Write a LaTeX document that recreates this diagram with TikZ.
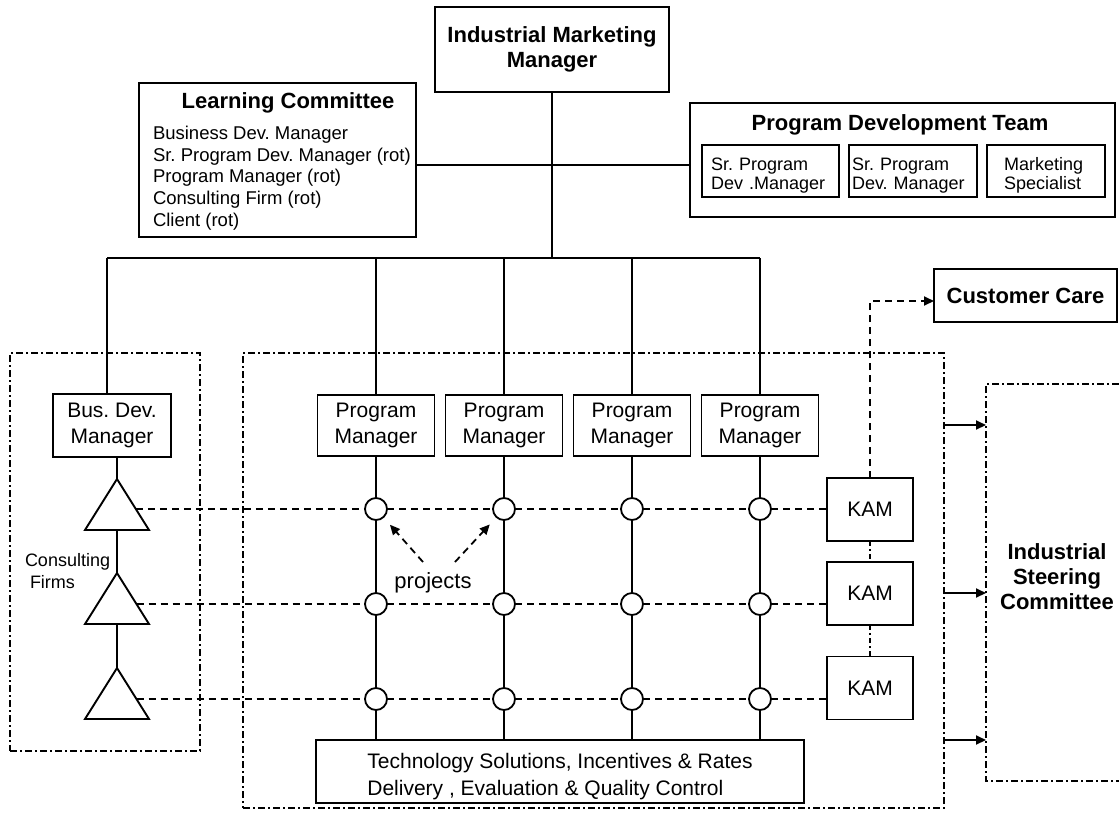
\documentclass[tikz,border=0pt]{standalone}
\usepackage{fontspec}
\setmainfont{Liberation Sans}
\usetikzlibrary{arrows.meta}
\frenchspacing
\hyphenpenalty=10000
\newcommand\dgTitle{\fontsize{22}{25}\selectfont\bfseries}
\newcommand\dgBox{\fontsize{21}{26}\selectfont}
\newcommand\dgList{\fontsize{18.5}{21.7}\selectfont}
\newcommand\dgTeam{\fontsize{18}{19.5}\selectfont}
\newcommand\dgLift[1]{\rule{0pt}{#1}}
\begin{document}
\begin{tikzpicture}[x=1pt,y=-1pt,
  every node/.style={inner sep=0pt, outer sep=0pt},
  frame/.style={draw, line width=1.9pt, align=center},
  region/.style={draw, line width=1.6pt, dash pattern=on 7pt off 3pt on 2pt off 3pt},
  link/.style={line width=1.9pt},
  dashlink/.style={line width=1.8pt, dash pattern=on 7pt off 5pt},
  dotlink/.style={line width=1.6pt, dash pattern=on 5pt off 3pt on 2pt off 3pt},
  tip/.style={-{Triangle[length=10pt,width=9pt]}},
  hub/.style={circle, draw, line width=1.8pt, minimum size=22pt},
  pmbox/.style={frame, minimum width=117pt, minimum height=61pt, font=\dgBox},
  kambox/.style={frame, minimum width=86pt, minimum height=63pt, font=\dgBox},
  teambox/.style={frame, minimum height=52pt, align=left, font=\dgTeam},
]
\useasboundingbox (0,0) rectangle (1119,812);

% dash-dot zones
\node[region, minimum width=190pt, minimum height=398pt] (firmzone) at (105,552) {};
\node[region, minimum width=701pt, minimum height=455pt] (core) at (593.5,580.5) {};
\node[minimum width=133pt, minimum height=397pt] (steer) at (1052.5,582.5) {};
\draw[region] (steer.north east) -- (steer.north west) -- (steer.south west) -- (steer.south east);
\node[font=\dgTitle, align=center] (steertext) at (1057,577) {Industrial\\Steering\\Committee};

% top of the organisation
\node[frame, minimum width=234pt, minimum height=85pt, font=\dgTitle] (imm) at (552,49.5) {Industrial Marketing\\Manager};

\node[frame, minimum width=277pt, minimum height=154pt] (lc) at (277.5,160) {};
\node[font=\dgTitle] (lctitle) at (288,103) {Learning Committee};
\node[font=\dgList, align=left, anchor=north west] (lclist) at (153,126)
  {Business Dev. Manager\\Sr. Program Dev. Manager (rot)\\Program Manager (rot)\\Consulting Firm (rot)\\Client (rot)};

\node[frame, minimum width=425pt, minimum height=114pt] (pdt) at (902.5,160) {};
\node[font=\dgTitle] (pdttitle) at (900,125) {Program Development Team};
\node[teambox, text width=119pt, inner xsep=9pt] (sr1) at (770.5,171) {\dgLift{22pt}Sr. Program\\Dev .Manager};
\node[teambox, text width=122pt, inner xsep=3pt] (sr2) at (913,171) {\dgLift{22pt}Sr. Program\\Dev. Manager};
\node[teambox, text width=84pt, inner xsep=17pt] (mkt) at (1046,171) {\dgLift{22pt}Marketing\\Specialist};

\node[frame, minimum width=183pt, minimum height=53pt, font=\dgTitle] (cc) at (1025.5,295.5) {Customer Care};

% managers
\node[frame, minimum width=118pt, minimum height=63pt, font=\dgBox] (bdm) at (112,425.5) {Bus. Dev.\\Manager};
\node[pmbox] (pm1) at (376,425.5) {Program\\Manager};
\node[pmbox] (pm2) at (504,425.5) {Program\\Manager};
\node[pmbox] (pm3) at (632,425.5) {Program\\Manager};
\node[pmbox] (pm4) at (760,425.5) {Program\\Manager};

\node[kambox] (kam1) at (870,509.5) {KAM};
\node[kambox] (kam2) at (870,593.5) {KAM};
\node[kambox] (kam3) at (870,688) {KAM};

\node[frame, minimum width=488pt, minimum height=63pt, align=left, font=\fontsize{21}{27}\selectfont] (tech) at (560,771.5)
  {\dgLift{25pt}Technology Solutions, Incentives \& Rates\\Delivery , Evaluation \& Quality Control};

% project hubs
\foreach \r/\y in {1/509,2/604,3/699}
  \foreach \c/\x in {1/376,2/504,3/632,4/760}
    \node[hub] (c\r\c) at (\x,\y) {};

% consulting firms
\foreach \k/\ay in {1/479,2/573,3/668} {
  \coordinate (apex\k) at (117,\ay);
  \coordinate (base\k) at (117,\ay+51);
  \draw[link, line join=miter] (apex\k) -- ++(32,51) -- ++(-64,0) -- cycle;
}
\coordinate (f1) at (135.8,509);
\coordinate (f2) at (136.5,604);
\coordinate (f3) at (136.5,699);
\node[font=\fontsize{18}{22}\selectfont, align=left, anchor=west] (firms) at (25,571) {Consulting\\\hspace{5pt}Firms};

% reporting lines
\coordinate (junction) at (553,258);
\coordinate (teamrow) at (553,165);
\coordinate (bdtop) at (107,258);
\draw[link] (imm.south) -- (imm.south |- junction);
\draw[link] (lc.east |- teamrow) -- (pdt.west |- teamrow);
\draw[link] (bdtop) -- (pm4.north |- bdtop);
\draw[link] (bdtop) -- (bdtop |- bdm.north);
\foreach \c in {1,...,4}
  \draw[link] (pm\c.north |- bdtop) -- (pm\c.north);

\draw[link] (apex1 |- bdm.south) -- (apex1);
\draw[link] (base1) -- (apex2);
\draw[link] (base2) -- (apex3);

\foreach \c in {1,...,4}
  \draw[link] (pm\c) -- (c1\c) -- (c2\c) -- (c3\c) -- (c3\c |- tech.north);

% project rows
\draw[dashlink] (f1) -- (c11) -- (c12) -- (c13) -- (c14) -- (kam1.west |- c14);
\draw[dashlink] (f2) -- (c21) -- (c22) -- (c23) -- (c24) -- (kam2.west |- c24);
\draw[dashlink] (f3) -- (c31) -- (c32) -- (c33) -- (c34) -- (kam3.west |- c34);

% account managers
\draw[dotlink] (kam1) -- (kam2);
\draw[dotlink] (kam2) -- (kam3);
\coordinate (ccin) at (934,301);
\draw[dashlink, tip] (kam1.north) -- (kam1.north |- ccin) -- (ccin);

% reports to the steering committee
\foreach \i/\y in {1/425,2/593,3/740} {
  \coordinate (ar\i) at (0,\y);
  \draw[link, tip] (core.east |- ar\i) -- (steer.west |- ar\i);
}

% projects label
\node[font=\fontsize{22}{26}\selectfont] (proj) at (433,583) {projects};
\coordinate (pl) at (423,562);
\coordinate (pr) at (455,562);
\draw[dashlink, tip, shorten >=10pt] (pl) -- (c11);
\draw[dashlink, tip, shorten >=10pt] (pr) -- (c12);
\end{tikzpicture}
\end{document}
